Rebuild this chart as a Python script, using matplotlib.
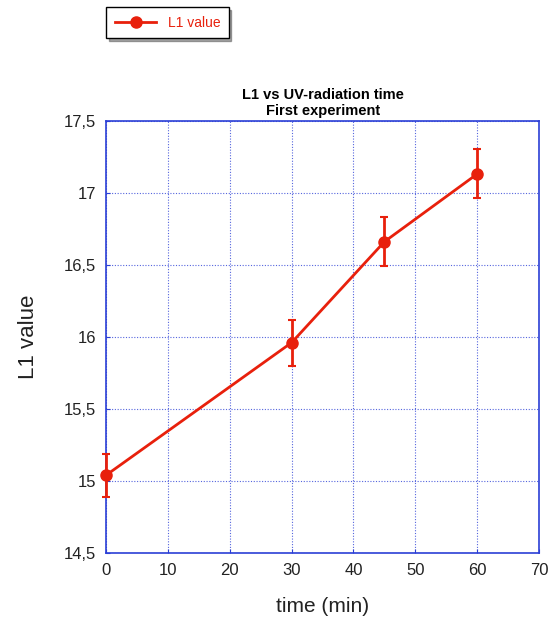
import matplotlib
matplotlib.use("Agg")
import matplotlib.pyplot as plt
from matplotlib.ticker import FuncFormatter
from matplotlib.lines import Line2D

plt.rcParams['font.family'] = ['Liberation Sans', 'DejaVu Sans']

time_min = [0, 30, 45, 60]
l1_value = [15.04, 15.96, 16.66, 17.13]
l1_err = [0.15, 0.16, 0.17, 0.17]

x_ticks = [0, 10, 20, 30, 40, 50, 60, 70]
y_ticks = [14.5, 15, 15.5, 16, 16.5, 17, 17.5]

red = '#e8200c'
blue = '#2b3fd6'

fig = plt.figure(figsize=(5.5, 6.22), dpi=100)
ax = fig.add_axes([0.193, 0.111, 0.787, 0.695])

ax.errorbar(time_min, l1_value, yerr=l1_err, color=red, lw=2,
            marker='o', ms=8, capsize=3, elinewidth=2, capthick=1.5,
            clip_on=False, zorder=5)

ax.set_xlim(0, 70)
ax.set_ylim(14.5, 17.5)
ax.set_xticks(x_ticks)
ax.set_yticks(y_ticks)
ax.yaxis.set_major_formatter(FuncFormatter(lambda v, p: ('%g' % v).replace('.', ',')))
ax.grid(True, color=blue, ls=(0, (1, 1.5)), lw=0.8, alpha=0.8)
for s in ax.spines.values():
    s.set_color(blue)
    s.set_linewidth(1.2)
ax.tick_params(direction='in', length=3, color=blue, labelsize=12, labelcolor='#222222', pad=7)

ax.set_xlabel('time (min)', fontsize=15, labelpad=14, color='#222222')
ax.set_ylabel('L1 value', fontsize=16, labelpad=18, color='#222222')
ax.set_title('L1 vs UV-radiation time\nFirst experiment', fontsize=10.5, fontweight='bold',
             linespacing=1.2, pad=4)

handle = Line2D([], [], color=red, lw=2, marker='o', ms=8)
leg = fig.legend(handles=[handle], labels=['L1 value'], loc='upper left',
                 bbox_to_anchor=(0.186, 0.995), frameon=True, fancybox=False,
                 shadow=True, fontsize=10, handlelength=3, borderpad=0.6,
                 borderaxespad=0.3, edgecolor='black', labelcolor=red)
leg.get_frame().set_linewidth(1)

fig.savefig('out.png', dpi=100)
